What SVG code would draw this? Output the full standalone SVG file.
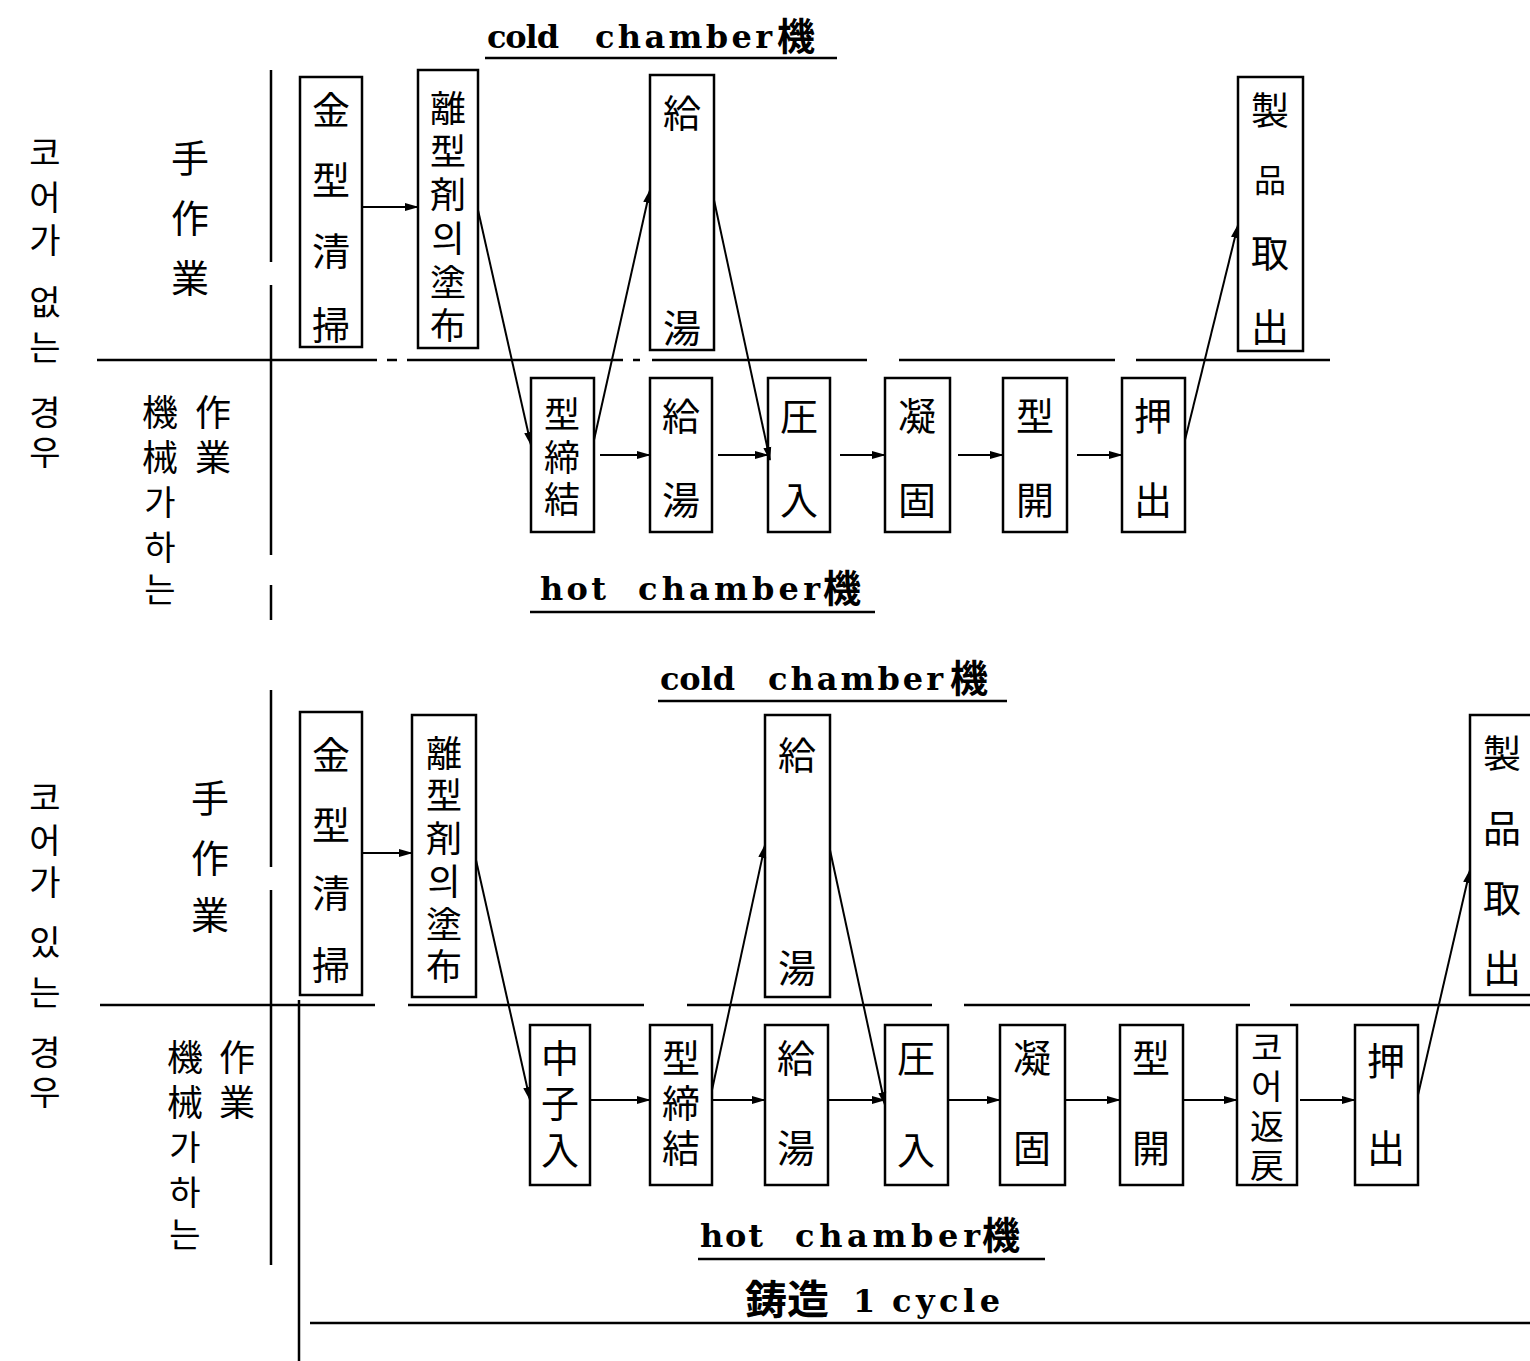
<svg xmlns="http://www.w3.org/2000/svg" width="1530" height="1361" viewBox="0 0 1530 1361">
<style>
.bx{fill:none;stroke:#000;stroke-width:2.5}
.ln{fill:none;stroke:#000;stroke-width:2.5}
.ar{fill:none;stroke:#000;stroke-width:2;marker-end:url(#ah)}
.k{font-family:"Noto Sans CJK JP","Noto Sans CJK KR",sans-serif;font-size:38px;text-anchor:middle;dominant-baseline:central;fill:#000}
.k6{font-size:36px}
.kr{font-family:"Noto Sans CJK KR","Noto Sans CJK JP",sans-serif;font-size:34px;text-anchor:middle;dominant-baseline:central;fill:#000}
.t{font-family:"DejaVu Serif",serif;font-weight:bold;font-size:32px;fill:#000}
.tk{font-family:"Noto Sans CJK JP",sans-serif;font-weight:bold;font-size:38px;fill:#000}
</style>
<defs>
<marker id="ah" markerUnits="userSpaceOnUse" markerWidth="14" markerHeight="10" refX="13" refY="5" orient="auto">
<path d="M0,1 L14,5 L0,9 z" fill="#000"/>
</marker>
</defs>
<rect width="1530" height="1361" fill="#fff"/>

<g id="frame">
<path class="ln" d="M271,70 V262 M271,285 V555 M271,585 V620"/>
<path class="ln" d="M97,360 H377 M387,360 H397 M407,360 H623 M633,360 H640 M652,360 H867 M899,360 H1115 M1136,360 H1330"/>
<path class="ln" d="M271,690 V867 M271,890 V1265"/>
<path class="ln" d="M299,1000 V1361"/>
<path class="ln" d="M100,1005 H375 M408,1005 H644 M687,1005 H932 M964,1005 H1250 M1290,1005 H1530"/>
<path class="ln" d="M310,1323 H1530"/>
</g>

<g id="labels">
<text class="kr" x="45" y="150">코</text>
<text class="kr" x="45" y="195">어</text>
<text class="kr" x="45" y="238">가</text>
<text class="kr" x="45" y="300">없</text>
<text class="kr" x="45" y="345">는</text>
<text class="kr" x="45" y="410">경</text>
<text class="kr" x="45" y="450">우</text>
<text class="k" x="190" y="155">手</text>
<text class="k" x="190" y="215">作</text>
<text class="k" x="190" y="275">業</text>
<text class="k k6" x="160" y="410">機</text>
<text class="k k6" x="160" y="455">械</text>
<text class="kr" x="160" y="500">가</text>
<text class="kr" x="160" y="545">하</text>
<text class="kr" x="160" y="587">는</text>
<text class="k k6" x="213" y="410">作</text>
<text class="k k6" x="213" y="455">業</text>

<text class="kr" x="45" y="795">코</text>
<text class="kr" x="45" y="838">어</text>
<text class="kr" x="45" y="880">가</text>
<text class="kr" x="45" y="940">있</text>
<text class="kr" x="45" y="990">는</text>
<text class="kr" x="45" y="1050">경</text>
<text class="kr" x="45" y="1090">우</text>
<text class="k" x="210" y="795">手</text>
<text class="k" x="210" y="855">作</text>
<text class="k" x="210" y="912">業</text>
<text class="k k6" x="185" y="1055">機</text>
<text class="k k6" x="185" y="1100">械</text>
<text class="kr" x="185" y="1145">가</text>
<text class="kr" x="185" y="1190">하</text>
<text class="kr" x="185" y="1232">는</text>
<text class="k k6" x="237" y="1055">作</text>
<text class="k k6" x="237" y="1100">業</text>
</g>

<g id="titles">
<text class="t" x="487" y="48" textLength="72" lengthAdjust="spacing">cold</text><text class="t" x="595" y="48" textLength="177" lengthAdjust="spacing">chamber</text><text class="tk" x="777" y="50">機</text>
<path class="ln" d="M485,58 H837"/>
<text class="t" x="540" y="600" textLength="66" lengthAdjust="spacing">hot</text><text class="t" x="638" y="600" textLength="182" lengthAdjust="spacing">chamber</text><text class="tk" x="823" y="602">機</text>
<path class="ln" d="M530,612 H875"/>
<text class="t" x="660" y="690" textLength="75" lengthAdjust="spacing">cold</text><text class="t" x="768" y="690" textLength="175" lengthAdjust="spacing">chamber</text><text class="tk" x="950" y="692">機</text>
<path class="ln" d="M658,701 H1007"/>
<text class="t" x="700" y="1247" textLength="63" lengthAdjust="spacing">hot</text><text class="t" x="795" y="1247" textLength="185" lengthAdjust="spacing">chamber</text><text class="tk" x="982" y="1249">機</text>
<path class="ln" d="M698,1259 H1045"/>
<text class="tk" x="745" y="1314" style="font-size:40px" textLength="84" lengthAdjust="spacingAndGlyphs">鋳造</text><text class="t" x="853" y="1312">1</text><text class="t" x="892" y="1312" textLength="108" lengthAdjust="spacing">cycle</text>
</g>

<g id="t_kanagata"><rect class="bx" x="300" y="77" width="62" height="270"/>
<text class="k" x="331" y="107">金</text><text class="k" x="331" y="177">型</text><text class="k" x="331" y="248">清</text><text class="k" x="331" y="322">掃</text></g>
<g id="t_rikei"><rect class="bx" x="418" y="70" width="60" height="278"/>
<text class="k k6" x="448" y="106">離</text><text class="k k6" x="448" y="149">型</text><text class="k k6" x="448" y="192">剤</text><text class="k k6" x="448" y="236">의</text><text class="k k6" x="448" y="280">塗</text><text class="k k6" x="448" y="323">布</text></g>
<g id="t_kyuto_h"><rect class="bx" x="650" y="75" width="64" height="275"/>
<text class="k" x="682" y="110">給</text><text class="k" x="682" y="325">湯</text></g>
<g id="t_seihin"><rect class="bx" x="1238" y="77" width="65" height="274"/>
<text class="k" x="1270" y="107">製</text><text class="k" x="1270" y="178" style="font-size:32px">品</text><text class="k" x="1270" y="250">取</text><text class="k" x="1270" y="324">出</text></g>

<g id="t_katajime"><rect class="bx" x="531" y="378" width="63" height="154"/>
<text class="k k6" x="562" y="412">型</text><text class="k k6" x="562" y="455">締</text><text class="k k6" x="562" y="497">結</text></g>
<g id="t_kyuto_m"><rect class="bx" x="650" y="378" width="62" height="154"/>
<text class="k" x="681" y="413">給</text><text class="k" x="681" y="497">湯</text></g>
<g id="t_atsunyu"><rect class="bx" x="768" y="378" width="62" height="154"/>
<text class="k" x="799" y="413">圧</text><text class="k" x="799" y="497">入</text></g>
<g id="t_gyoko"><rect class="bx" x="885" y="378" width="65" height="154"/>
<text class="k" x="917" y="413">凝</text><text class="k" x="917" y="497">固</text></g>
<g id="t_katabiraki"><rect class="bx" x="1003" y="378" width="64" height="154"/>
<text class="k" x="1035" y="413">型</text><text class="k" x="1035" y="497">開</text></g>
<g id="t_oshidashi"><rect class="bx" x="1122" y="378" width="63" height="154"/>
<text class="k" x="1153" y="413">押</text><text class="k" x="1153" y="497">出</text></g>

<g id="b_kanagata"><rect class="bx" x="300" y="712" width="62" height="283"/>
<text class="k" x="331" y="752">金</text><text class="k" x="331" y="822">型</text><text class="k" x="331" y="890">清</text><text class="k" x="331" y="962">掃</text></g>
<g id="b_rikei"><rect class="bx" x="412" y="715" width="64" height="282"/>
<text class="k k6" x="444" y="751">離</text><text class="k k6" x="444" y="793">型</text><text class="k k6" x="444" y="836">剤</text><text class="k k6" x="444" y="879">의</text><text class="k k6" x="444" y="922">塗</text><text class="k k6" x="444" y="964">布</text></g>
<g id="b_kyuto_h"><rect class="bx" x="765" y="715" width="65" height="282"/>
<text class="k" x="797" y="752">給</text><text class="k" x="797" y="965">湯</text></g>
<g id="b_seihin"><rect class="bx" x="1470" y="715" width="66" height="280"/>
<text class="k" x="1502" y="750">製</text><text class="k" x="1502" y="825">品</text><text class="k" x="1502" y="895">取</text><text class="k" x="1502" y="965">出</text></g>

<g id="b_nakago"><rect class="bx" x="530" y="1025" width="60" height="160"/>
<text class="k" x="560" y="1055">中</text><text class="k" x="560" y="1100">子</text><text class="k" x="560" y="1147">入</text></g>
<g id="b_katajime"><rect class="bx" x="650" y="1025" width="62" height="160"/>
<text class="k" x="681" y="1055">型</text><text class="k" x="681" y="1100">締</text><text class="k" x="681" y="1145">結</text></g>
<g id="b_kyuto_m"><rect class="bx" x="765" y="1025" width="63" height="160"/>
<text class="k" x="796" y="1055">給</text><text class="k" x="796" y="1145">湯</text></g>
<g id="b_atsunyu"><rect class="bx" x="885" y="1025" width="63" height="160"/>
<text class="k" x="916" y="1055">圧</text><text class="k" x="916" y="1147">入</text></g>
<g id="b_gyoko"><rect class="bx" x="1000" y="1025" width="65" height="160"/>
<text class="k" x="1032" y="1055">凝</text><text class="k" x="1032" y="1145">固</text></g>
<g id="b_katabiraki"><rect class="bx" x="1120" y="1025" width="63" height="160"/>
<text class="k" x="1151" y="1055">型</text><text class="k" x="1151" y="1145">開</text></g>
<g id="b_core"><rect class="bx" x="1237" y="1025" width="60" height="160"/>
<text class="k" x="1267" y="1045" style="font-size:34px">코</text><text class="k" x="1267" y="1084" style="font-size:34px">어</text><text class="k" x="1267" y="1124" style="font-size:34px">返</text><text class="k" x="1267" y="1163" style="font-size:34px">戻</text></g>
<g id="b_oshidashi"><rect class="bx" x="1355" y="1025" width="63" height="160"/>
<text class="k" x="1386" y="1058">押</text><text class="k" x="1386" y="1145">出</text></g>

<g id="connectors">
<line class="ar" x1="362" y1="207" x2="418" y2="207"/>
<line class="ar" x1="478" y1="210" x2="531" y2="445"/>
<line class="ar" x1="594" y1="440" x2="650" y2="190"/>
<line class="ar" x1="714" y1="200" x2="770" y2="460"/>
<line class="ar" x1="600" y1="455" x2="650" y2="455"/>
<line class="ar" x1="718" y1="455" x2="768" y2="455"/>
<line class="ar" x1="840" y1="455" x2="885" y2="455"/>
<line class="ar" x1="958" y1="455" x2="1003" y2="455"/>
<line class="ar" x1="1077" y1="455" x2="1122" y2="455"/>
<line class="ar" x1="1185" y1="440" x2="1238" y2="225"/>

<line class="ar" x1="362" y1="853" x2="412" y2="853"/>
<line class="ar" x1="476" y1="860" x2="530" y2="1100"/>
<line class="ar" x1="590" y1="1100" x2="650" y2="1100"/>
<line class="ar" x1="712" y1="1090" x2="765" y2="845"/>
<line class="ar" x1="830" y1="850" x2="885" y2="1105"/>
<line class="ar" x1="712" y1="1100" x2="765" y2="1100"/>
<line class="ar" x1="828" y1="1100" x2="885" y2="1100"/>
<line class="ar" x1="948" y1="1100" x2="1000" y2="1100"/>
<line class="ar" x1="1065" y1="1100" x2="1120" y2="1100"/>
<line class="ar" x1="1183" y1="1100" x2="1237" y2="1100"/>
<line class="ar" x1="1300" y1="1100" x2="1355" y2="1100"/>
<line class="ar" x1="1418" y1="1095" x2="1470" y2="870"/>
</g>
</svg>
